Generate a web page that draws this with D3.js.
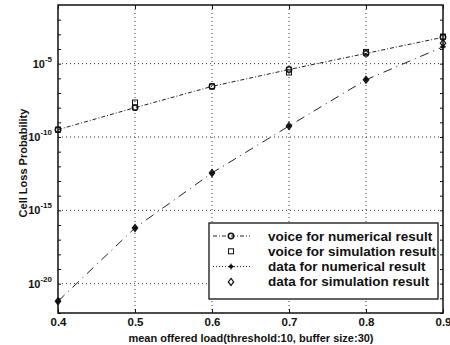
<!DOCTYPE html>
<html>
<head>
<meta charset="utf-8">
<script src="https://cdn.jsdelivr.net/npm/d3@7"></script>
<style>
  body { margin: 0; background: #fff; }
  text { font-family: "Liberation Sans", Arial, sans-serif; fill: #111; }
</style>
</head>
<body>
<svg id="chart" width="450" height="345"></svg>
<script>
// offered load values
const loads = [0.4, 0.5, 0.6, 0.7, 0.8, 0.9];
// log10 of cell loss probability
const voiceNumerical = [-9.5, -8.0, -6.55, -5.4, -4.3, -3.2];
const voiceSimulation = [-9.5, -7.65, -6.55, -5.6, -4.2, -3.15];
const dataNumerical = [-21.2, -16.2, -12.45, -9.25, -6.1, -3.85];
const dataSimulation = [-21.2, -16.2, -12.45, -9.25, -6.1, -3.6];
const xTicks = [0.4, 0.5, 0.6, 0.7, 0.8, 0.9];
const yTicks = [-5, -10, -15, -20];
const legendLabels = ["voice for numerical result", "voice for simulation result",
                      "data for numerical result", "data for simulation result"];

const svg = d3.select("#chart");
const margin = {left: 58, right: 7, top: 5, bottom: 32};
const W = 450, H = 345;

const x = d3.scaleLinear().domain([0.4, 0.9]).range([margin.left, W - margin.right]);
const y = d3.scaleLinear().domain([-22, -1]).range([H - margin.bottom, margin.top]);

const g = svg.append("g");

// grid lines
g.selectAll(".gx").data(xTicks.slice(1, -1)).enter().append("line")
  .attr("x1", d => x(d)).attr("x2", d => x(d))
  .attr("y1", y(-1)).attr("y2", y(-22))
  .attr("stroke", "#333").attr("stroke-width", 1).attr("stroke-dasharray", "1,3");
g.selectAll(".gy").data(yTicks).enter().append("line")
  .attr("x1", x(0.4)).attr("x2", x(0.9))
  .attr("y1", d => y(d)).attr("y2", d => y(d))
  .attr("stroke", "#333").attr("stroke-width", 1).attr("stroke-dasharray", "1,3");

// axes with inward ticks
const decades = d3.range(-22, -1);
g.append("g").attr("transform", `translate(0,${y(-22)})`)
  .call(d3.axisBottom(x).tickValues(xTicks).tickSize(-4).tickFormat(d3.format(".1f")).tickPadding(5))
  .call(a => a.select(".domain").remove())
  .selectAll("text").style("font-size", "11.5px").style("font-weight", "bold");
g.append("g").attr("transform", `translate(0,${y(-1)})`)
  .call(d3.axisTop(x).tickValues(xTicks).tickSize(-4).tickFormat(""))
  .call(a => a.select(".domain").remove());
g.append("g").attr("transform", `translate(${x(0.4)},0)`)
  .call(d3.axisLeft(y).tickValues(decades).tickSize(-3).tickFormat(""))
  .call(a => a.select(".domain").remove());
g.append("g").attr("transform", `translate(${x(0.9)},0)`)
  .call(d3.axisRight(y).tickValues(decades).tickSize(-3).tickFormat(""))
  .call(a => a.select(".domain").remove());
g.selectAll(".tick line").attr("stroke", "#111");

// y tick labels 10^n
const yl = g.selectAll(".ylab").data(yTicks).enter().append("text")
  .attr("x", x(0.4) - 6).attr("y", d => y(d) + 4)
  .attr("text-anchor", "end").style("font-size", "11px").style("font-weight", "bold");
yl.append("tspan").text("10");
yl.append("tspan").attr("dy", -6).style("font-size", "8px").text(d => "-" + (-d));

// frame
g.append("rect").attr("x", x(0.4)).attr("y", y(-1))
  .attr("width", x(0.9) - x(0.4)).attr("height", y(-22) - y(-1))
  .attr("fill", "none").attr("stroke", "#111").attr("stroke-width", 1.5);

// lines
const line = vals => d3.line().x((d, i) => x(loads[i])).y(d => y(d))(vals);
g.append("path").attr("d", line(voiceNumerical)).attr("fill", "none")
  .attr("stroke", "#222").attr("stroke-width", 1).attr("stroke-dasharray", "4,2,1,2");
g.append("path").attr("d", line(dataNumerical)).attr("fill", "none")
  .attr("stroke", "#222").attr("stroke-width", 1).attr("stroke-dasharray", "9,5,1,5");

// markers
const circ = (sel, cx, cy) => {
  sel.append("circle").attr("cx", cx).attr("cy", cy).attr("r", 2.7)
    .attr("fill", "none").attr("stroke", "#111").attr("stroke-width", 1.5);
};
const square = (sel, cx, cy) => {
  sel.append("rect").attr("x", cx - 2.5).attr("y", cy - 2.5).attr("width", 5).attr("height", 5)
    .attr("fill", "none").attr("stroke", "#111").attr("stroke-width", 1);
};
const star = (sel, cx, cy) => {
  sel.append("circle").attr("cx", cx).attr("cy", cy).attr("r", 2).attr("fill", "#111");
  sel.append("path").attr("d", `M${cx - 3},${cy}H${cx + 3}M${cx},${cy - 3}V${cy + 3}`)
    .attr("stroke", "#111").attr("stroke-width", 1);
};
const diamond = (sel, cx, cy) => {
  sel.append("path").attr("d", `M${cx},${cy - 3.5}L${cx + 2.7},${cy}L${cx},${cy + 3.5}L${cx - 2.7},${cy}Z`)
    .attr("fill", "none").attr("stroke", "#111").attr("stroke-width", 1.2);
};
loads.forEach((l, i) => {
  circ(g, x(l), y(voiceNumerical[i]));
  square(g, x(l), y(voiceSimulation[i]));
  star(g, x(l), y(dataNumerical[i]));
  diamond(g, x(l), y(dataSimulation[i]));
});

// legend
const lg = svg.append("g");
lg.append("rect").attr("x", 209).attr("y", 223).attr("width", 229).attr("height", 76)
  .attr("fill", "#fff").attr("stroke", "#111").attr("stroke-width", 1.3);
const markers = [circ, square, star, diamond];
legendLabels.forEach((t, i) => {
  const ly = 236 + i * 15.3;
  if (i === 0) lg.append("line").attr("x1", 213).attr("x2", 250).attr("y1", ly).attr("y2", ly)
    .attr("stroke", "#222").attr("stroke-dasharray", "4,2,1,2");
  if (i === 2) lg.append("line").attr("x1", 213).attr("x2", 250).attr("y1", ly).attr("y2", ly)
    .attr("stroke", "#222").attr("stroke-dasharray", "1,2");
  markers[i](lg, 231, ly);
  lg.append("text").attr("x", 268).attr("y", ly + 4.5).style("font-size", "13.5px")
    .style("font-weight", "bold").text(t);
});

// axis titles
svg.append("text").attr("x", 251).attr("y", 342).attr("text-anchor", "middle")
  .style("font-size", "11px").style("font-weight", "bold")
  .text("mean offered load(threshold:10, buffer size:30)");
svg.append("text").attr("transform", `translate(27,163) rotate(-90)`).attr("text-anchor", "middle")
  .style("font-size", "11px").style("font-weight", "bold").text("Cell Loss Probability");
</script>
</body>
</html>
